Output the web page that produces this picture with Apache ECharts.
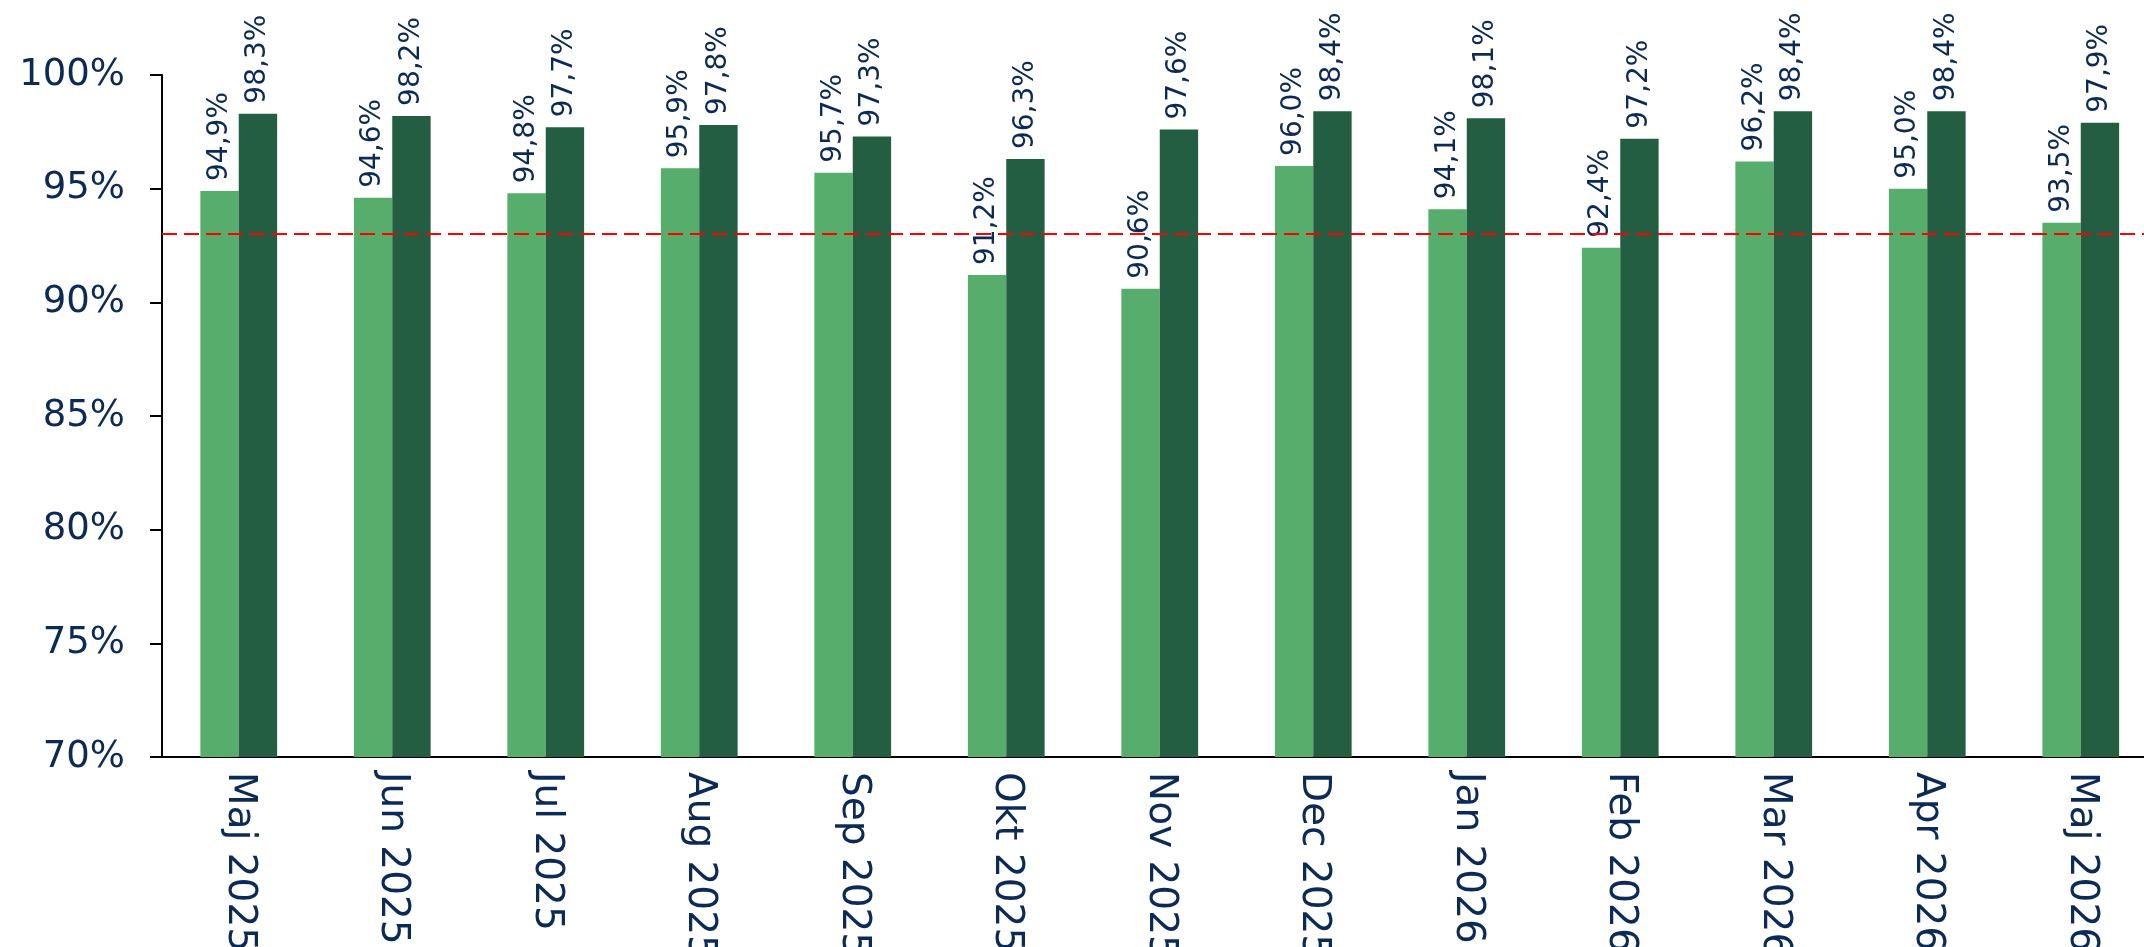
<!DOCTYPE html>
<html>
<head>
<meta charset="utf-8">
<script src="https://cdn.jsdelivr.net/npm/echarts@6/dist/echarts.min.js"></script>
<style>
html,body{margin:0;padding:0;background:#fff;}
#chart{width:2144px;height:947px;}
</style>
</head>
<body>
<div id="chart"></div>
<script>
const categories = ['Maj 2025','Jun 2025','Jul 2025','Aug 2025','Sep 2025','Okt 2025','Nov 2025','Dec 2025','Jan 2026','Feb 2026','Mar 2026','Apr 2026','Maj 2026'];
const seriesA = [94.9, 94.6, 94.8, 95.9, 95.7, 91.2, 90.6, 96.0, 94.1, 92.4, 96.2, 95.0, 93.5];
const seriesB = [98.3, 98.2, 97.7, 97.8, 97.3, 96.3, 97.6, 98.4, 98.1, 97.2, 98.4, 98.4, 97.9];
const targetLine = 93;
const yMin = 70, yMax = 100, yStep = 5;

const textColor = '#0B2A55';
const font = 'DejaVu Sans';
const chart = echarts.init(document.getElementById('chart'));
const fmt = p => p.value.toFixed(1).replace('.', ',') + '%';
const labelCfg = {
  show: true, position: 'top', rotate: 90, align: 'left', verticalAlign: 'middle',
  distance: 10, formatter: fmt, color: textColor, fontFamily: font, fontSize: 28
};
chart.setOption({
  animation: false,
  backgroundColor: '#fff',
  grid: { left: 162, top: 75, height: 682, width: 1995.5, containLabel: false, outerBoundsMode: 'none' },
  xAxis: {
    type: 'category', data: categories,
    axisTick: { show: false },
    axisLine: { lineStyle: { color: '#000', width: 2 } },
    axisLabel: { rotate: -90, color: textColor, fontFamily: font, fontSize: 39, margin: 15, interval: 0 }
  },
  yAxis: {
    type: 'value', min: yMin, max: yMax, interval: yStep,
    splitLine: { show: false },
    axisLine: { show: true, lineStyle: { color: '#000', width: 2 } },
    axisTick: { show: true, length: 12, lineStyle: { color: '#000', width: 2 } },
    axisLabel: { formatter: '{value}%', color: textColor, fontFamily: font, fontSize: 37, margin: 37 }
  },
  series: [
    {
      type: 'bar', data: seriesA, barGap: '0%', barCategoryGap: '50%',
      itemStyle: { color: '#57AD6C' }, label: labelCfg,
      markLine: {
        silent: true, symbol: 'none', label: { show: false },
        lineStyle: { color: '#FF0000', width: 2, type: [15, 7] },
        data: [{ yAxis: targetLine }]
      }
    },
    {
      type: 'bar', data: seriesB, barGap: '0%', barCategoryGap: '50%',
      itemStyle: { color: '#235E42' }, label: labelCfg
    }
  ]
});
</script>
</body>
</html>
